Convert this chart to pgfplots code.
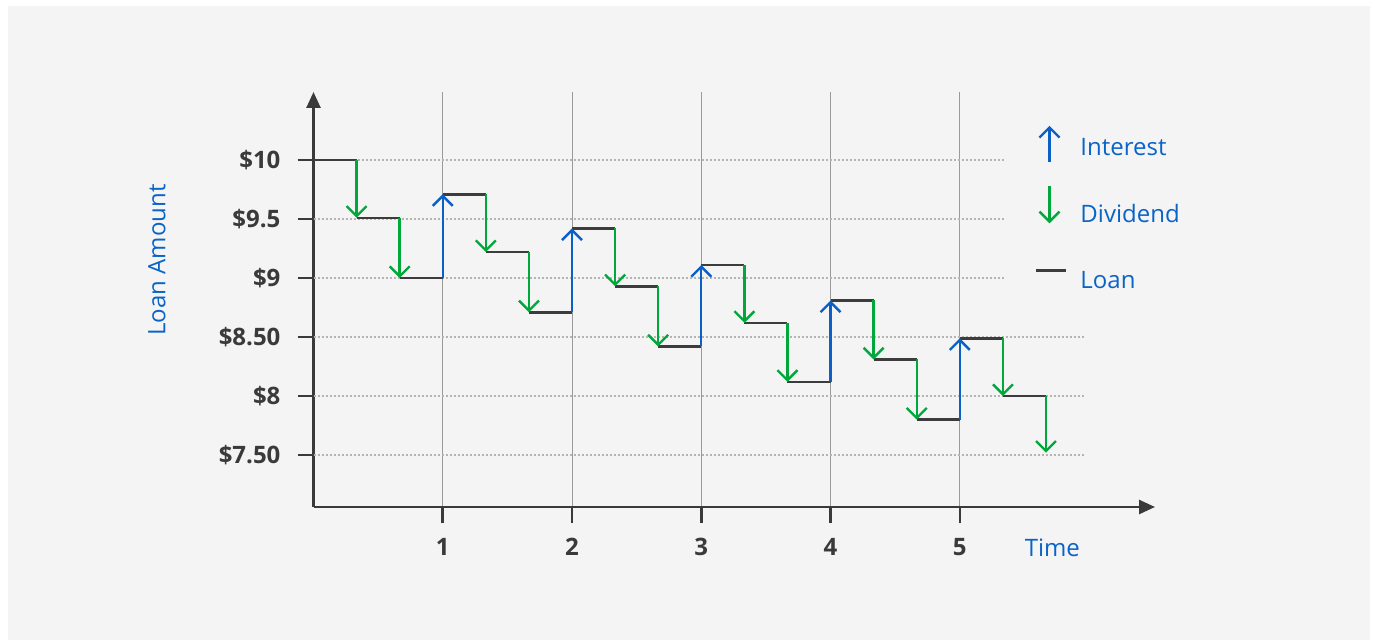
\documentclass[border=0pt]{standalone}
\usepackage{fontspec}
\setmainfont{Open Sans}
\usepackage{pgfplots}
\usepackage{pgfplotstable}
\pgfplotsset{compat=1.18}
\usetikzlibrary{arrows.meta}

\definecolor{bg}{HTML}{F4F4F4}
\definecolor{txtblue}{HTML}{0A64C8}
\definecolor{intblue}{HTML}{0A60C6}
\definecolor{divgreen}{HTML}{00A83C}
\definecolor{loangray}{HTML}{3C3C3C}
\definecolor{axisgray}{HTML}{3A3A3A}
\definecolor{gridgray}{HTML}{9A9A9A}
\definecolor{dotgray}{HTML}{B4B4B4}

% loan level after each event, held for 1/3 of a period
\pgfplotstableread{
x       y
0       10
0.3333  9.51
0.6667  9.00
1       9.71
1.3333  9.22
1.6667  8.71
2       9.42
2.3333  8.93
2.6667  8.42
3       9.11
3.3333  8.62
3.6667  8.12
4       8.81
4.3333  8.31
4.6667  7.80
5       8.49
5.3333  8.00
}\loan

% dividends: drop from y0 to y1
\pgfplotstableread{
x       y0    y1
0.3333  10    9.51
0.6667  9.51  9.00
1.3333  9.71  9.22
1.6667  9.22  8.71
2.3333  9.42  8.93
2.6667  8.93  8.42
3.3333  9.11  8.62
3.6667  8.62  8.12
4.3333  8.81  8.31
4.6667  8.31  7.80
5.3333  8.49  8.00
5.6667  8.00  7.52
}\dividend

% interest: rise from y0 to y1
\pgfplotstableread{
x  y0    y1
1  9.00  9.71
2  8.71  9.42
3  8.42  9.11
4  8.12  8.81
5  7.80  8.49
}\interest

% dotted guide lines: start, level, length
\pgfplotstableread{
x  y     u
0  10    5.35
0  9.5   5.35
0  9     5.35
0  8.5   5.97
0  8     5.97
0  7.5   5.97
}\guides

\tikzset{barb/.style={-{Straight Barb[length=5pt,width=10pt]}}}
% same invisible box for every legend image, so rows are evenly spaced
\newcommand\legbox{\path[draw=none, fill=none] (0pt,-8pt) rectangle (20pt,16pt);}

\begin{document}
\begin{tikzpicture}
\useasboundingbox (0,0) rectangle (687.5pt,-321pt);
\fill[white] (0,0) rectangle (687.5pt,-321pt);
\fill[bg] (4pt,-3pt) rectangle (685pt,-320pt);
\begin{axis}[
  at={(156.75pt,-253.5pt)}, anchor=south west,
  scale only axis, width=420.75pt, height=207.5pt,
  xmin=0, xmax=6.51, ymin=7.06, ymax=10.576,
  axis lines=left,
  axis line style={axisgray, line width=1.3pt, -{Triangle[length=8pt,width=7pt]}},
  tick align=outside, major tick length=8pt,
  tick style={axisgray, line width=1.3pt},
  xtick={1,2,3,4,5}, xticklabels={1,2,3,4,5},
  ytick={7.5,8,8.5,9,9.5,10},
  yticklabels={\$7.50,\$8,\$8.50,\$9,\$9.5,\$10},
  ticklabel style={font=\fontsize{12}{14}\selectfont\bfseries, text=axisgray},
  yticklabel style={xshift=-5pt},
  xticklabel style={yshift=-4pt},
  xmajorgrids, major grid style={gridgray, line width=0.5pt},
  xlabel={Time}, ylabel={Loan Amount},
  label style={font=\fontsize{12}{14}\selectfont, text=txtblue},
  xlabel style={at={(axis description cs:0.878,-0.099)}, anchor=center},
  ylabel style={at={(axis description cs:-0.186,0.595)}, anchor=center},
  clip=false,
  legend style={at={(0.850,0.952)}, anchor=north west, draw=none, fill=none,
    font=\fontsize{12}{14}\selectfont, text=txtblue, row sep=9.25pt},
  legend cell align=left,
]
\addplot[dotgray, line width=0.6pt, dash pattern=on 1pt off 1pt, forget plot,
  quiver={u=\thisrow{u}, v=0}] table[x=x, y=y] {\guides};
\addplot[loangray, line width=1.3pt, forget plot,
  quiver={u=0.3333, v=0}] table[x=x, y=y] {\loan};
\addplot[divgreen, line width=1.2pt, barb, forget plot,
  quiver={u=0, v=\thisrow{y1}-\thisrow{y0}}] table[x=x, y=y0] {\dividend};
\addplot[intblue, line width=1.2pt, barb, forget plot,
  quiver={u=0, v=\thisrow{y1}-\thisrow{y0}}] table[x=x, y=y0] {\interest};

\addlegendimage{legend image code/.code={\legbox
  \draw[intblue, line width=1.2pt, barb] (6.5pt,-6.75pt) -- (6.5pt,11.25pt);}}
\addlegendentry{Interest}
\addlegendimage{legend image code/.code={\legbox
  \draw[divgreen, line width=1.2pt, barb] (6.5pt,14.25pt) -- (6.5pt,-4.25pt);}}
\addlegendentry{Dividend}
\addlegendimage{legend image code/.code={\legbox
  \draw[loangray, line width=1.3pt] (0pt,5.5pt) -- (15pt,5.5pt);}}
\addlegendentry{Loan}
\end{axis}
\end{tikzpicture}
\end{document}
